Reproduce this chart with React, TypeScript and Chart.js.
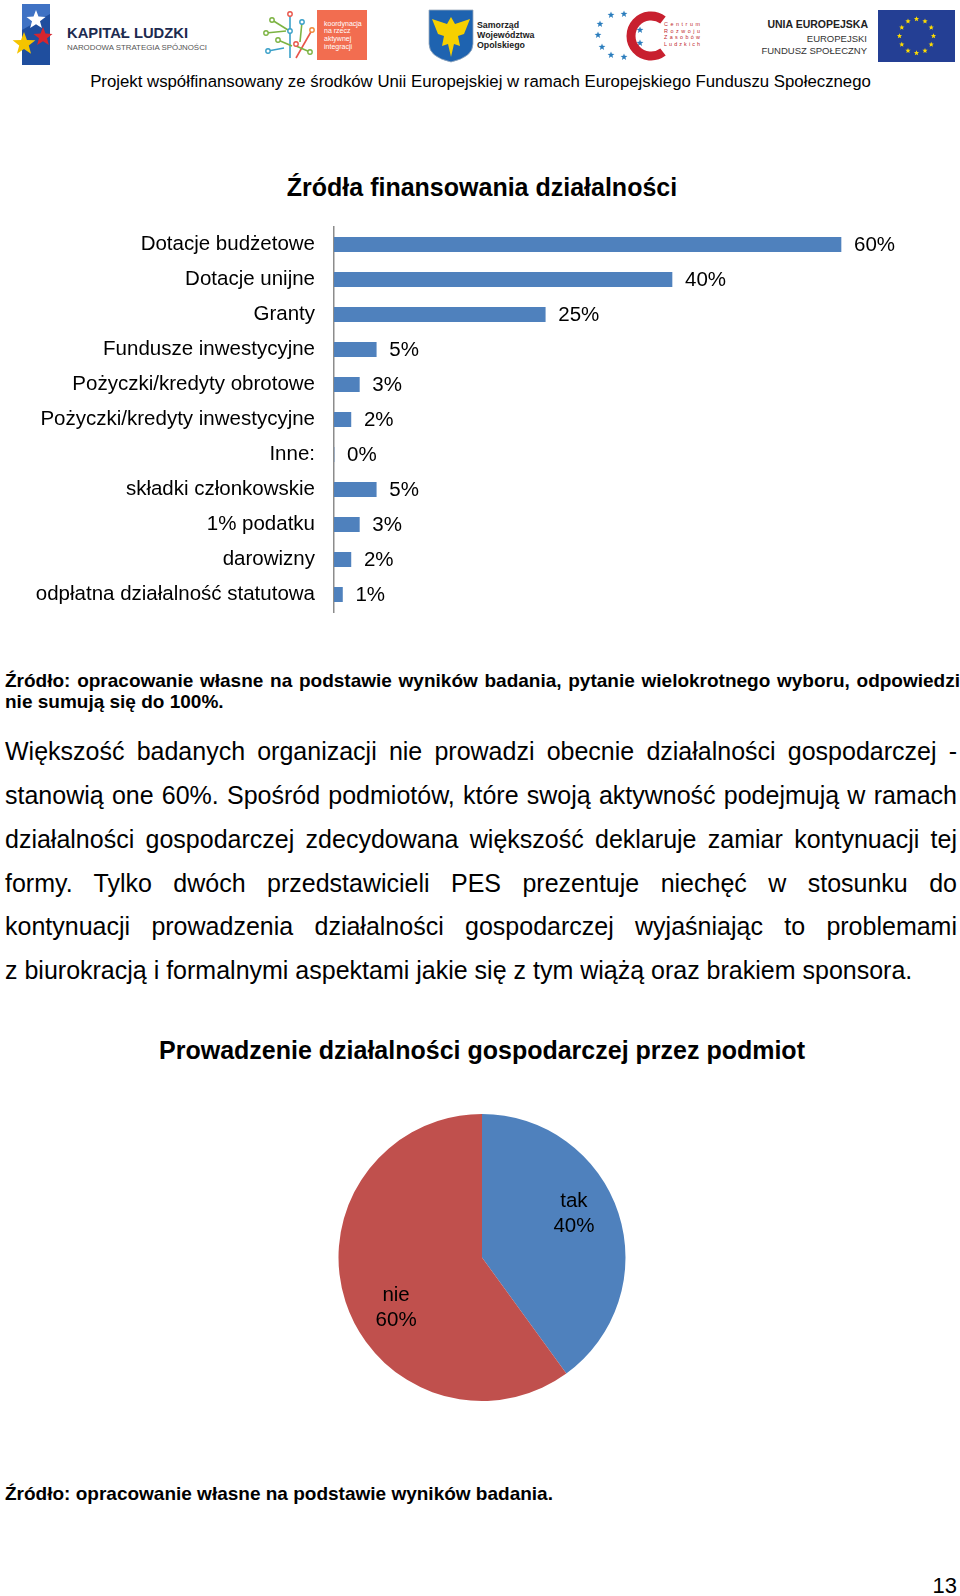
import React, { useEffect, useRef } from "react";
import { Chart, registerables } from "chart.js";

Chart.register(...registerables);

const FONT = "'Liberation Sans', Arial, sans-serif";

// ---- Data ----
const barCategories = [
  "Dotacje budżetowe",
  "Dotacje unijne",
  "Granty",
  "Fundusze inwestycyjne",
  "Pożyczki/kredyty obrotowe",
  "Pożyczki/kredyty inwestycyjne",
  "Inne:",
  "składki członkowskie",
  "1% podatku",
  "darowizny",
  "odpłatna działalność statutowa",
];
const barValues = [60, 40, 25, 5, 3, 2, 0, 5, 3, 2, 1];

const pieLabels = ["tak", "nie"];
const pieValues = [40, 60];

const barColor = "#4F81BD";
const pieColors = ["#4F81BD", "#C0504D"];

const paragraphLines = [
  "Większość badanych organizacji nie prowadzi obecnie działalności gospodarczej -",
  "stanowią one 60%. Spośród podmiotów, które swoją aktywność podejmują w ramach",
  "działalności gospodarczej zdecydowana większość deklaruje zamiar kontynuacji tej",
  "formy. Tylko dwóch przedstawicieli PES prezentuje niechęć w stosunku do",
  "kontynuacji prowadzenia działalności gospodarczej wyjaśniając to problemami",
  "z biurokracją i formalnymi aspektami jakie się z tym wiążą oraz brakiem sponsora.",
];

function starPts(cx: number, cy: number, R: number, r: number = R * 0.42) {
  const pts: string[] = [];
  for (let i = 0; i < 10; i++) {
    const a = -Math.PI / 2 + (i * Math.PI) / 5;
    const rad = i % 2 === 0 ? R : r;
    pts.push(`${(cx + rad * Math.cos(a)).toFixed(2)},${(cy + rad * Math.sin(a)).toFixed(2)}`);
  }
  return pts.join(" ");
}

const Header = () => {
  const euStars = Array.from({ length: 12 }, (_, i) => {
    const a = (i * Math.PI) / 6;
    return starPts(916.5 + 17 * Math.cos(a), 36 + 17 * Math.sin(a), 2.8);
  });
  const crStars: [number, number][] = [
    [611, 15], [624, 14], [600, 24], [598, 35], [602, 47], [611, 55], [624, 57], [640, 30], [640, 43],
  ];
  return (
    <svg width={960} height={70} style={{ position: "absolute", left: 0, top: 0 }}>
      {/* Kapitał Ludzki */}
      <polygon points="22,4 50,4 50,65 22,65" fill="#1f4e9e" />
      <polygon points="22,4 50,4 50,14 22,30" fill="#3f72c4" />
      <polygon points={starPts(36, 20, 10)} fill="#ffffff" />
      <polygon points={starPts(43, 37, 10)} fill="#d6252f" />
      <polygon points={starPts(24, 44, 12)} fill="#f5c400" />
      <text x={67} y={38} fontFamily={FONT} fontWeight="bold" fontSize={14.6} fill="#1d2b50" textLength={121} lengthAdjust="spacingAndGlyphs">KAPITAŁ LUDZKI</text>
      <text x={67} y={49.5} fontFamily={FONT} fontSize={7.4} fill="#555" textLength={140} lengthAdjust="spacingAndGlyphs">NARODOWA STRATEGIA SPÓJNOŚCI</text>

      {/* koordynacja */}
      <g strokeWidth={1.6} fill="none">
        <line x1={290} y1={14} x2={290} y2={58} stroke="#3aa0c8" />
        <line x1={272} y1={20} x2={288} y2={30} stroke="#7cb342" />
        <line x1={266} y1={33} x2={286} y2={31} stroke="#7cb342" />
        <line x1={278} y1={40} x2={292} y2={46} stroke="#7cb342" />
        <line x1={268} y1={51} x2={284} y2={48} stroke="#3aa0c8" />
        <line x1={296} y1={58} x2={312} y2={30} stroke="#e9544a" />
        <line x1={302} y1={22} x2={300} y2={42} stroke="#7cb342" />
        <line x1={296} y1={46} x2={310} y2={52} stroke="#7cb342" />
      </g>
      {[[290, 14, "#e9544a"], [272, 20, "#7cb342"], [266, 33, "#7cb342"], [278, 40, "#7cb342"], [268, 51, "#3aa0c8"], [312, 30, "#f08a3a"], [302, 22, "#3aa0c8"], [310, 52, "#7cb342"], [290, 31, "#3aa0c8"], [296, 44, "#e9544a"]].map((p, i) => (
        <circle key={i} cx={p[0] as number} cy={p[1] as number} r={2.2} fill="#fff" stroke={p[2] as string} strokeWidth={1.4} />
      ))}
      <rect x={317} y={10} width={50} height={50} fill="#F26D50" />
      {["koordynacja", "na rzecz", "aktywnej", "integracji"].map((t, i) => (
        <text key={t} x={324} y={25.5 + i * 7.8} fontFamily={FONT} fontSize={7} fill="#fff">{t}</text>
      ))}

      {/* Samorząd */}
      <path d="M429,10 L473,10 L473,44 Q473,57 451,62 Q429,57 429,44 Z" fill="#1e63b0" stroke="#9ab" strokeWidth={0.8} />
      <polygon points="451,17 455,24 470,19 464,34 458,36 460,46 454,44 451,57 448,44 442,46 444,36 438,34 432,19 447,24" fill="#f6d000" />
      {["Samorząd", "Województwa", "Opolskiego"].map((t, i) => (
        <text key={t} x={477} y={28 + i * 10} fontFamily={FONT} fontWeight="bold" fontSize={8.8} fill="#222">{t}</text>
      ))}

      {/* Centrum Rozwoju Zasobów Ludzkich */}
      {crStars.map((p, i) => (
        <polygon key={i} points={starPts(p[0], p[1], 3.6)} fill="#2b7dbd" />
      ))}
      <path d="M663,20 A20,20 0 1,0 663,52" fill="none" stroke="#c8202f" strokeWidth={9} />
      {["Centrum", "Rozwoju", "Zasobów", "Ludzkich"].map((t, i) => (
        <text key={t} x={664} y={26 + i * 6.6} fontFamily={FONT} fontSize={5.4} fill="#c0262d" textLength={36} lengthAdjust="spacing">{t}</text>
      ))}

      {/* UE */}
      <text x={868} y={28} textAnchor="end" fontFamily={FONT} fontWeight="bold" fontSize={10.5} fill="#222">UNIA EUROPEJSKA</text>
      <text x={867} y={41.5} textAnchor="end" fontFamily={FONT} fontSize={9.5} fill="#333">EUROPEJSKI</text>
      <text x={867} y={53.5} textAnchor="end" fontFamily={FONT} fontSize={9.5} fill="#333">FUNDUSZ SPOŁECZNY</text>
      <rect x={878} y={10} width={77} height={52} fill="#243f94" />
      {euStars.map((s, i) => (
        <polygon key={i} points={s} fill="#ffdd00" />
      ))}
    </svg>
  );
};

const T = (p: { left?: number; width?: number; top: number; lh: number; size: number; bold?: boolean; align?: any; children: any; extra?: any }) => (
  <div
    style={{
      position: "absolute",
      left: p.left ?? 0,
      width: p.width ?? 960,
      top: p.top,
      lineHeight: `${p.lh}px`,
      fontSize: p.size,
      fontWeight: p.bold ? "bold" : "normal",
      textAlign: p.align ?? "left",
      whiteSpace: "nowrap",
      ...(p.extra || {}),
    }}
  >
    {p.children}
  </div>
);

export default function App() {
  const barRef = useRef<HTMLCanvasElement>(null);
  const pieRef = useRef<HTMLCanvasElement>(null);

  useEffect(() => {
    document.body.style.margin = "0";

    const valueLabels = {
      id: "valueLabels",
      afterDatasetsDraw(chart: any) {
        const ctx = chart.ctx;
        const meta = chart.getDatasetMeta(0);
        const data = chart.data.datasets[0].data;
        ctx.save();
        ctx.font = `20.5px ${FONT}`;
        ctx.fillStyle = "#000";
        ctx.textAlign = "left";
        ctx.textBaseline = "middle";
        meta.data.forEach((el: any, i: number) => {
          ctx.fillText(`${data[i]}%`, el.x + 13, el.y + 1);
        });
        ctx.restore();
      },
    };

    const bar = new Chart(barRef.current!, {
      type: "bar",
      data: {
        labels: barCategories,
        datasets: [{ data: barValues, backgroundColor: barColor, borderWidth: 0, barThickness: 14.5 }],
      },
      options: {
        indexAxis: "y",
        animation: false,
        responsive: true,
        maintainAspectRatio: false,
        layout: { padding: { top: 10, bottom: 10, left: 0, right: 34.5 } },
        plugins: { legend: { display: false }, tooltip: { enabled: false } },
        scales: {
          x: { display: false, min: 0, max: 70 },
          y: {
            grid: { display: false, drawTicks: false },
            border: { display: true, color: "#8c8c8c", width: 1.5 },
            ticks: { color: "#000", font: { family: FONT, size: 20.5 }, padding: 19, autoSkip: false },
            afterFit: (s: any) => {
              s.width = 334;
              s.paddingTop = 0;
              s.paddingBottom = 0;
            },
          },
        },
      },
      plugins: [valueLabels],
    } as any);

    const pieText = {
      id: "pieText",
      afterDatasetsDraw(chart: any) {
        const ctx = chart.ctx;
        const meta = chart.getDatasetMeta(0);
        const data = chart.data.datasets[0].data;
        const labels = chart.data.labels;
        ctx.save();
        ctx.font = `20.5px ${FONT}`;
        ctx.fillStyle = "#000";
        ctx.textAlign = "center";
        ctx.textBaseline = "middle";
        meta.data.forEach((arc: any, i: number) => {
          const { x, y, startAngle, endAngle, outerRadius } = arc.getProps(["x", "y", "startAngle", "endAngle", "outerRadius"], true);
          const mid = (startAngle + endAngle) / 2 - 0.17;
          const r = outerRadius * 0.7;
          const cx = x + Math.cos(mid) * r + 3;
          const cy = y + Math.sin(mid) * r + 3.5;
          ctx.fillText(labels[i], cx, cy - 12.5);
          ctx.fillText(`${data[i]}%`, cx, cy + 12.5);
        });
        ctx.restore();
      },
    };

    const pie = new Chart(pieRef.current!, {
      type: "pie",
      data: {
        labels: pieLabels,
        datasets: [{ data: pieValues, backgroundColor: pieColors, borderWidth: 0 }],
      },
      options: {
        animation: false,
        responsive: true,
        maintainAspectRatio: false,
        layout: { padding: 6.5 },
        plugins: { legend: { display: false }, tooltip: { enabled: false } },
      },
      plugins: [pieText],
    } as any);

    return () => {
      bar.destroy();
      pie.destroy();
    };
  }, []);

  const paraTops = [729, 773, 817, 861, 904, 948];

  return (
    <div
      style={{
        position: "relative",
        width: 960,
        height: 1596,
        overflow: "hidden",
        background: "#fff",
        fontFamily: FONT,
        color: "#000",
      }}
    >
      <Header />
      <T top={72} lh={20} size={16.8} align="center" left={0} width={961}>
        Projekt współfinansowany ze środków Unii Europejskiej w ramach Europejskiego Funduszu Społecznego
      </T>

      <T top={172} lh={30} size={25} bold align="center" left={0} width={964}>
        Źródła finansowania działalności
      </T>

      <div style={{ position: "absolute", left: 0, top: 217, width: 960, height: 405 }}>
        <canvas ref={barRef} />
      </div>

      <div
        style={{
          position: "absolute",
          left: 5,
          width: 955,
          top: 670,
          lineHeight: "22px",
          fontSize: 19,
          fontWeight: "bold",
          textAlign: "justify",
          textAlignLast: "justify",
        } as any}
      >
        Źródło: opracowanie własne na podstawie wyników badania, pytanie wielokrotnego wyboru, odpowiedzi
      </div>
      <T top={691} lh={22} size={19} bold left={5} width={955}>
        nie sumują się do 100%.
      </T>

      {paragraphLines.map((line, i) => (
        <div
          key={i}
          style={{
            position: "absolute",
            left: 5,
            width: 952,
            top: paraTops[i],
            lineHeight: "44px",
            fontSize: 25,
            textAlign: i === paragraphLines.length - 1 ? "left" : "justify",
            textAlignLast: i === paragraphLines.length - 1 ? "left" : "justify",
          } as any}
        >
          {line}
        </div>
      ))}

      <T top={1035} lh={30} size={25} bold align="center" left={0} width={964}>
        Prowadzenie działalności gospodarczej przez podmiot
      </T>

      <div style={{ position: "absolute", left: 332, top: 1107, width: 300, height: 301 }}>
        <canvas ref={pieRef} />
      </div>

      <T top={1483} lh={22} size={19} bold left={5} width={955}>
        Źródło: opracowanie własne na podstawie wyników badania.
      </T>

      <T top={1573} lh={25} size={22} align="right" left={0} width={957}>
        13
      </T>
    </div>
  );
}
